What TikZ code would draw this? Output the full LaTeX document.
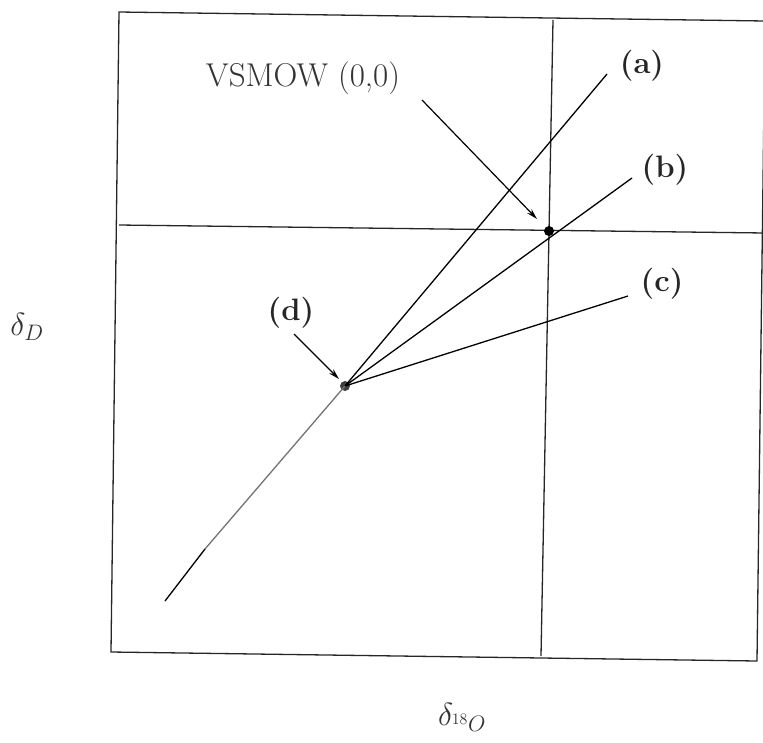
\RequirePackage{fix-cm}
\documentclass[tikz,border=0pt]{standalone}
\usetikzlibrary{arrows.meta}
\tikzset{
  frame/.style={line width=1.3pt, black!85},
  ray/.style={line width=1.3pt, black},
  lbl/.style={font=\fontsize{31}{37}\selectfont\bfseries, inner sep=0pt, text=black!85},
  vlbl/.style={font=\fontsize{33}{39}\selectfont, inner sep=0pt, text=black!80},
  axlbl/.style={font=\fontsize{32}{38}\selectfont, inner sep=0pt, text=black!80},
  pointer/.style={line width=1.2pt, -{Stealth[length=11pt,width=6pt]}},
  dotpt/.style={circle, fill=black, inner sep=0pt, minimum size=10pt}
}
\begin{document}
\begin{tikzpicture}[x=1pt,y=-1pt]
\useasboundingbox (0,0) rectangle (763,742);
\begin{scope}
\clip (0,0) rectangle (763,742);
\coordinate (tl) at (119,12);
\coordinate (tr) at (765,21);
\coordinate (br) at (757,661);
\coordinate (bl) at (111,652);
\draw[frame] (tl) -- (tr) -- (br) -- (bl) -- cycle;
\coordinate (hl) at (119,225);
\coordinate (hr) at (765,233);
\draw[frame] (hl) -- (hr);
\coordinate (vt) at (553,20);
\coordinate (vb) at (541,656);
\draw[frame] (vt) -- (vb);
\end{scope}
% points
\node[dotpt] (vs) at (549,231) {};
\node[dotpt, fill=black!75] (d) at (345,386) {};
% ray ends
\coordinate (ae) at (607,74);
\coordinate (be) at (632,178);
\coordinate (ce) at (628,296);
\coordinate (le) at (165,601);
\draw[ray] (d.center) -- (ae);
\draw[ray] (d.center) -- (be);
\draw[ray] (d.center) -- (ce);
\draw[ray, black!55] (d.center) -- (205,549);
\draw[ray] (205,549) -- (le);
% labels
\node[lbl] (la) at (642,66) {(a)};
\node[lbl] (lb) at (665,170) {(b)};
\node[lbl] (lc) at (662,284) {(c)};
\node[lbl] (ld) at (291,313) {(d)};
\node[vlbl] (vsl) at (303,78) {VSMOW (0,0)};
% pointers
\coordinate (vsa) at (422,100);
\draw[pointer] (vsa) -- (537,219);
\coordinate (da) at (294,334);
\draw[pointer] (da) -- (339,379);
% axis labels
\node[axlbl] (yl) at (27,327) {$\delta_D$};
\node[axlbl] (xl) at (462,717) {$\delta_{^{18}O}$};
\end{tikzpicture}
\end{document}
